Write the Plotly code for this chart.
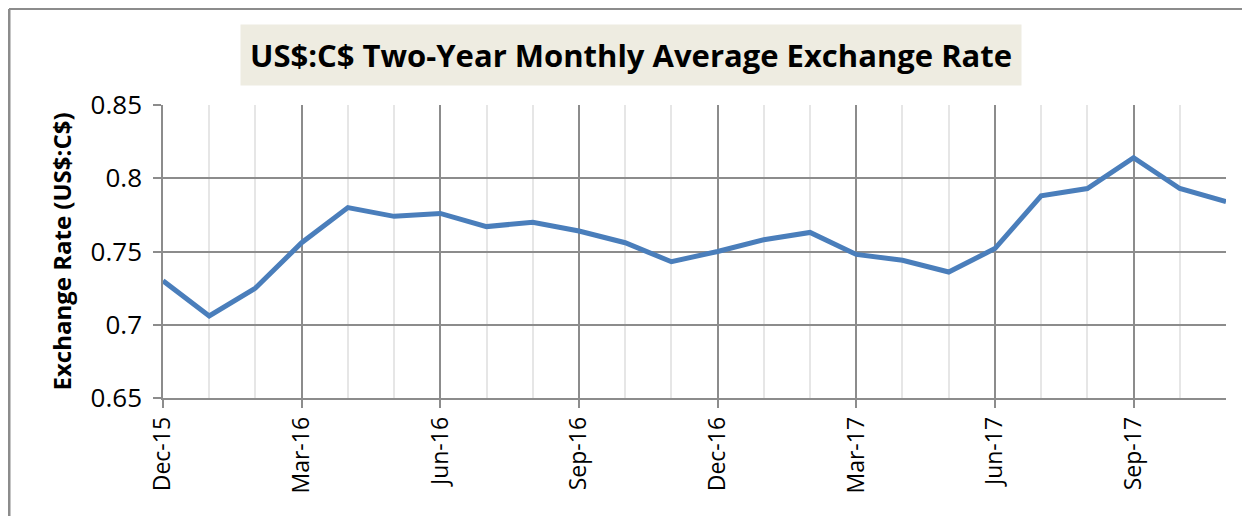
import plotly.graph_objects as go

months = ["Dec-15", "Jan-16", "Feb-16", "Mar-16", "Apr-16", "May-16", "Jun-16", "Jul-16",
          "Aug-16", "Sep-16", "Oct-16", "Nov-16", "Dec-16", "Jan-17", "Feb-17", "Mar-17",
          "Apr-17", "May-17", "Jun-17", "Jul-17", "Aug-17", "Sep-17", "Oct-17", "Nov-17"]
rates = [0.730, 0.706, 0.725, 0.756, 0.780, 0.774, 0.776, 0.767,
         0.770, 0.764, 0.756, 0.743, 0.750, 0.758, 0.763, 0.748,
         0.744, 0.736, 0.752, 0.788, 0.793, 0.814, 0.793, 0.784]
y_ticks = [0.65, 0.7, 0.75, 0.8, 0.85]

idx = list(range(len(months)))
major = [i for i in idx if i % 3 == 0]

fig = go.Figure()
fig.add_trace(go.Scatter(x=idx, y=rates, mode="lines",
                         line=dict(color="#4A7EBB", width=5),
                         hoverinfo="skip", showlegend=False))

font_family = "Open Sans, Liberation Sans, sans-serif"

# plot area in page pixels: x 163..1226, y 105..398 (page has 8px body margin)
PL, PR, PT, PB = 163, 1226, 105, 398
pw, ph = PR - PL, PB - PT

fig.update_layout(
    width=1242, height=508,
    margin=dict(l=155, r=24, t=97, b=118),
    paper_bgcolor="white", plot_bgcolor="white",
    showlegend=False,
    xaxis=dict(
        range=[0, len(months) - 1],
        tickmode="array", tickvals=major, ticktext=[months[i] for i in major],
        tickangle=-90, tickfont=dict(family=font_family, size=23, color="black"),
        showgrid=True, gridcolor="#8c8c8c", gridwidth=1.5,
        ticks="outside", ticklen=8, tickcolor="#8c8c8c", tickwidth=1.5,
        showline=True, linecolor="#8c8c8c", linewidth=1.5,
        zeroline=False,
        minor=dict(tickmode="array", tickvals=idx, showgrid=True,
                   gridcolor="#e6e6e6", gridwidth=1.5, ticks=""),
    ),
    yaxis=dict(
        range=[0.65, 0.85],
        tickmode="array", tickvals=y_ticks, ticktext=[f"{v:g}" for v in y_ticks],
        tickfont=dict(family=font_family, size=26, color="black"),
        ticklabelstandoff=6,
        showgrid=True, gridcolor="#8c8c8c", gridwidth=1.5,
        ticks="outside", ticklen=8, tickcolor="#8c8c8c", tickwidth=1.5,
        showline=True, linecolor="#8c8c8c", linewidth=1.5,
        zeroline=False,
        title=dict(text="<b>Exchange Rate (US$:C$)</b>",
                   font=dict(family=font_family, size=24, color="black"),
                   standoff=12),
    ),
    annotations=[dict(
        text="<b>US$:C$ Two-Year Monthly Average Exchange Rate</b>",
        xref="paper", yref="paper", x=(631 - PL) / pw, y=(PB - 55) / ph,
        xanchor="center", yanchor="middle", showarrow=False,
        font=dict(family=font_family, size=31, color="black"),
        bgcolor="#EEECE1", borderpad=9,
    )],
    shapes=[
        dict(type="line", xref="paper", yref="paper",
             x0=(9 - PL) / pw, x1=(9 - PL) / pw, y0=(PB - 9) / ph, y1=(PB - 530) / ph,
             line=dict(color="#8c8c8c", width=3)),
        dict(type="line", xref="paper", yref="paper",
             x0=(9 - PL) / pw, x1=(1260 - PL) / pw, y0=(PB - 9) / ph, y1=(PB - 9) / ph,
             line=dict(color="#8c8c8c", width=2)),
    ],
)

fig.write_html("out.html")
